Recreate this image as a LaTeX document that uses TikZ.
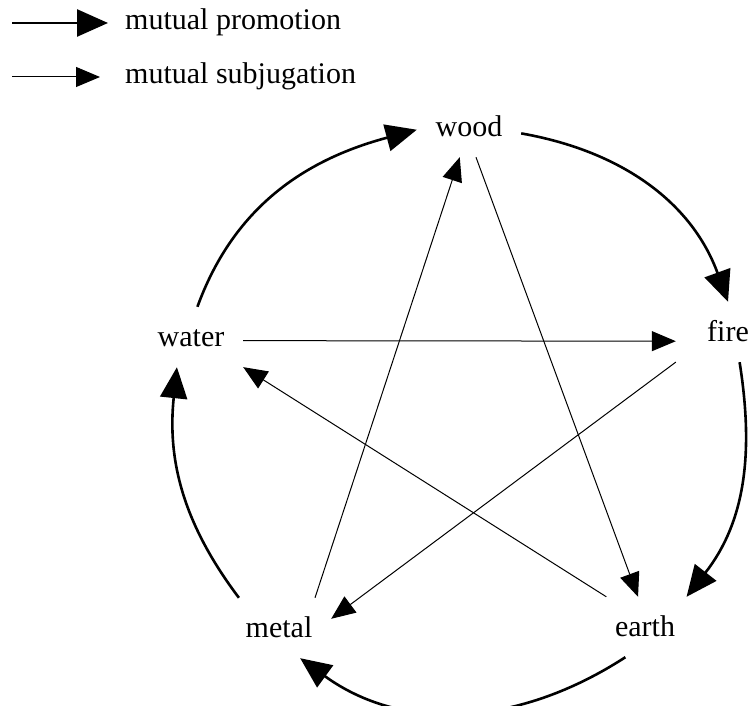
\documentclass[tikz,border=0pt]{standalone}
\usepackage{fontspec}
\setmainfont{Liberation Serif}
\usetikzlibrary{arrows.meta}

\begin{document}
\begin{tikzpicture}[x=1pt, y=1pt,
  elem/.style={font=\fontsize{30}{36}\selectfont, inner sep=0pt,
    text height=20pt, text depth=0pt, minimum width=104pt, minimum height=60pt},
  legend/.style={font=\fontsize{30}{36}\selectfont, anchor=west,
    inner xsep=17pt, inner ysep=0pt, text height=14pt, text depth=0pt},
  promote/.style={line width=2.6pt, -{Triangle[length=31pt,width=27pt]}},
  subjugate/.style={line width=1pt, -{Triangle[length=24pt,width=20pt]}}]
\useasboundingbox (0,0) rectangle (752,706);
% ---- legend ----
\coordinate (p0) at (12,683);
\coordinate (s0) at (12,629);
\node[legend] (promo) at (108,683) {mutual promotion};
\node[legend] (subj) at (108,629) {mutual subjugation};
\draw[promote] (p0) -- (promo.west);
\draw[subjugate, shorten >=8pt] (s0) -- (subj.west);
% ---- the five elements ----
\node[elem] (wood)  at (469,579) {wood};
\node[elem] (fire)  at (728,374) {fire};
\node[elem] (water) at (191,369) {water};
\node[elem] (metal) at (279,78)  {metal};
\node[elem] (earth) at (645,79)  {earth};
% ---- promotion: outer cycle ----
\foreach \a/\oa/\b/\ib/\o/\i in {water/78/wood/183/70/195,
                                 wood/353/fire/90/350/110,
                                 fire/291/earth/36/279/52,
                                 earth/237/metal/305/213/324,
                                 metal/143/water/245/127/264} {
  \draw[promote] (\a.\oa) to[out=\o, in=\i] (\b.\ib);
}
% ---- subjugation: inner star ----
\foreach \a/\oa/\b/\ib in {water/356/fire/190, wood/283/earth/103,
                           fire/210/metal/10, earth/142/water/330,
                           metal/40/wood/253} {
  \draw[subjugate] (\a.\oa) -- (\b.\ib);
}
\end{tikzpicture}
\end{document}
